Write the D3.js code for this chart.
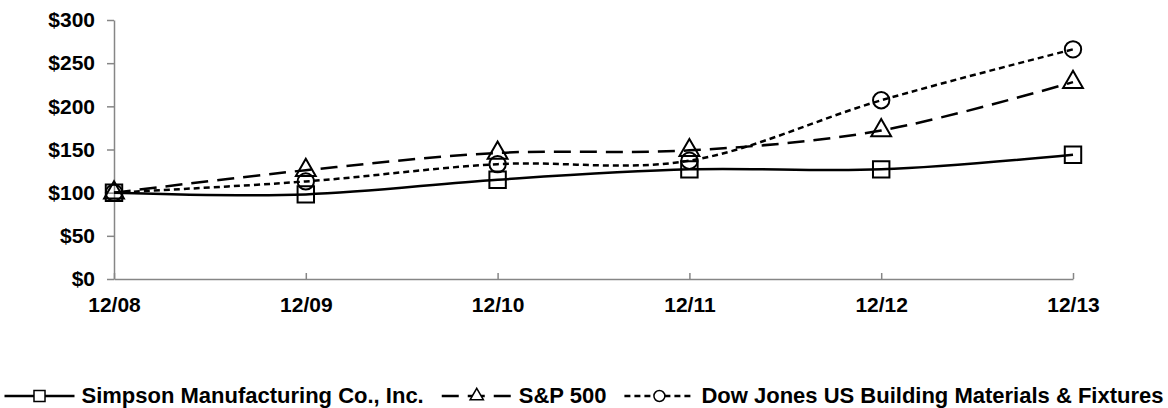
<!DOCTYPE html>
<meta charset="utf-8">
<style>
body { margin: 0; background: #fff; }
svg { font-family: "Liberation Sans", Arial, sans-serif; font-weight: bold; }
.axis path, .axis line { stroke: #868686; stroke-width: 1.5; fill: none; }
.axis text { font-size: 21px; fill: #000; }
.series path.line { fill: none; stroke: #000; stroke-width: 2.5; }
.marker { fill: none; stroke: #000; stroke-width: 2; }
.legend text { font-size: 22px; fill: #000; }
</style>
<body>
<script src="https://cdn.jsdelivr.net/npm/d3@7"></script>
<script>

var categories = ["12/08", "12/09", "12/10", "12/11", "12/12", "12/13"];
var seriesNames = ["Simpson Manufacturing Co., Inc.", "S&P 500", "Dow Jones US Building Materials & Fixtures"];
var simpson = [100, 98, 115, 127, 127, 144];
var sp500 = [100, 126, 146, 149, 172, 228];
var dowJones = [100, 113, 133, 137, 207, 266];
var yTicks = [0, 50, 100, 150, 200, 250, 300];

var W = 1168, H = 408;
var m = { left: 114, right: 1073, top: 20, bottom: 279 };

var series = [
  { name: seriesNames[0], values: simpson, dash: null, symbol: d3.symbolSquare },
  { name: seriesNames[1], values: sp500, dash: "17,9", symbol: d3.symbolTriangle },
  { name: seriesNames[2], values: dowJones, dash: "6,4", symbol: d3.symbolCircle }
];

var x = d3.scalePoint().domain(categories).range([m.left, m.right]);
var y = d3.scaleLinear().domain([0, 300]).range([m.bottom, m.top]);

var svg = d3.select("body").append("svg")
    .attr("width", W)
    .attr("height", H);

// y axis
svg.append("g")
    .attr("class", "axis")
    .attr("transform", "translate(" + m.left + ",0)")
    .call(d3.axisLeft(y).tickValues(yTicks).tickSize(7).tickSizeOuter(0).tickPadding(12)
      .tickFormat(function(d) { return "$" + d; }));

// x axis, ticks pointing up
svg.append("g")
    .attr("class", "axis")
    .attr("transform", "translate(0," + m.bottom + ")")
    .call(d3.axisBottom(x).tickSize(-6).tickSizeOuter(0).tickPadding(18));

var line = d3.line()
    .x(function(d, i) { return x(categories[i]); })
    .y(function(d) { return y(d); })
    .curve(d3.curveCardinal.tension(0));

var markerSize = [270, 170, 210];

var g = svg.selectAll("g.series")
    .data(series)
  .enter().append("g")
    .attr("class", "series");

g.append("path")
    .attr("class", "line")
    .attr("stroke-dasharray", function(d) { return d.dash; })
    .attr("d", function(d) { return line(d.values); });

g.each(function(s, si) {
  d3.select(this).selectAll("path.marker")
      .data(s.values)
    .enter().append("path")
      .attr("class", "marker")
      .attr("d", d3.symbol().type(s.symbol).size(markerSize[si]))
      .attr("transform", function(d, i) { return "translate(" + x(categories[i]) + "," + y(d) + ")"; });
});

// legend
var legend = svg.append("g").attr("class", "legend");
var lineLen = 70, gapText = 7, gapItem = 18, cursor = 0, ly = 396;

series.forEach(function(s, si) {
  var item = legend.append("g");
  item.append("line")
      .attr("x1", cursor).attr("x2", cursor + lineLen)
      .attr("y1", ly).attr("y2", ly)
      .attr("stroke", "#000").attr("stroke-width", 2.5)
      .attr("stroke-dasharray", s.dash);
  item.append("path")
      .attr("class", "marker")
      .attr("d", d3.symbol().type(s.symbol).size(markerSize[si] * 0.45))
      .attr("transform", "translate(" + (cursor + lineLen / 2) + "," + ly + ")")
      .style("fill", "#fff").style("stroke-width", 1.5);
  var t = item.append("text")
      .attr("x", cursor + lineLen + gapText)
      .attr("y", 403)
      .text(s.name);
  cursor += lineLen + gapText + t.node().getComputedTextLength() + gapItem;
});

var total = cursor - gapItem;
legend.attr("transform", "translate(" + (W / 2 - total / 2) + ",0)");

</script>
